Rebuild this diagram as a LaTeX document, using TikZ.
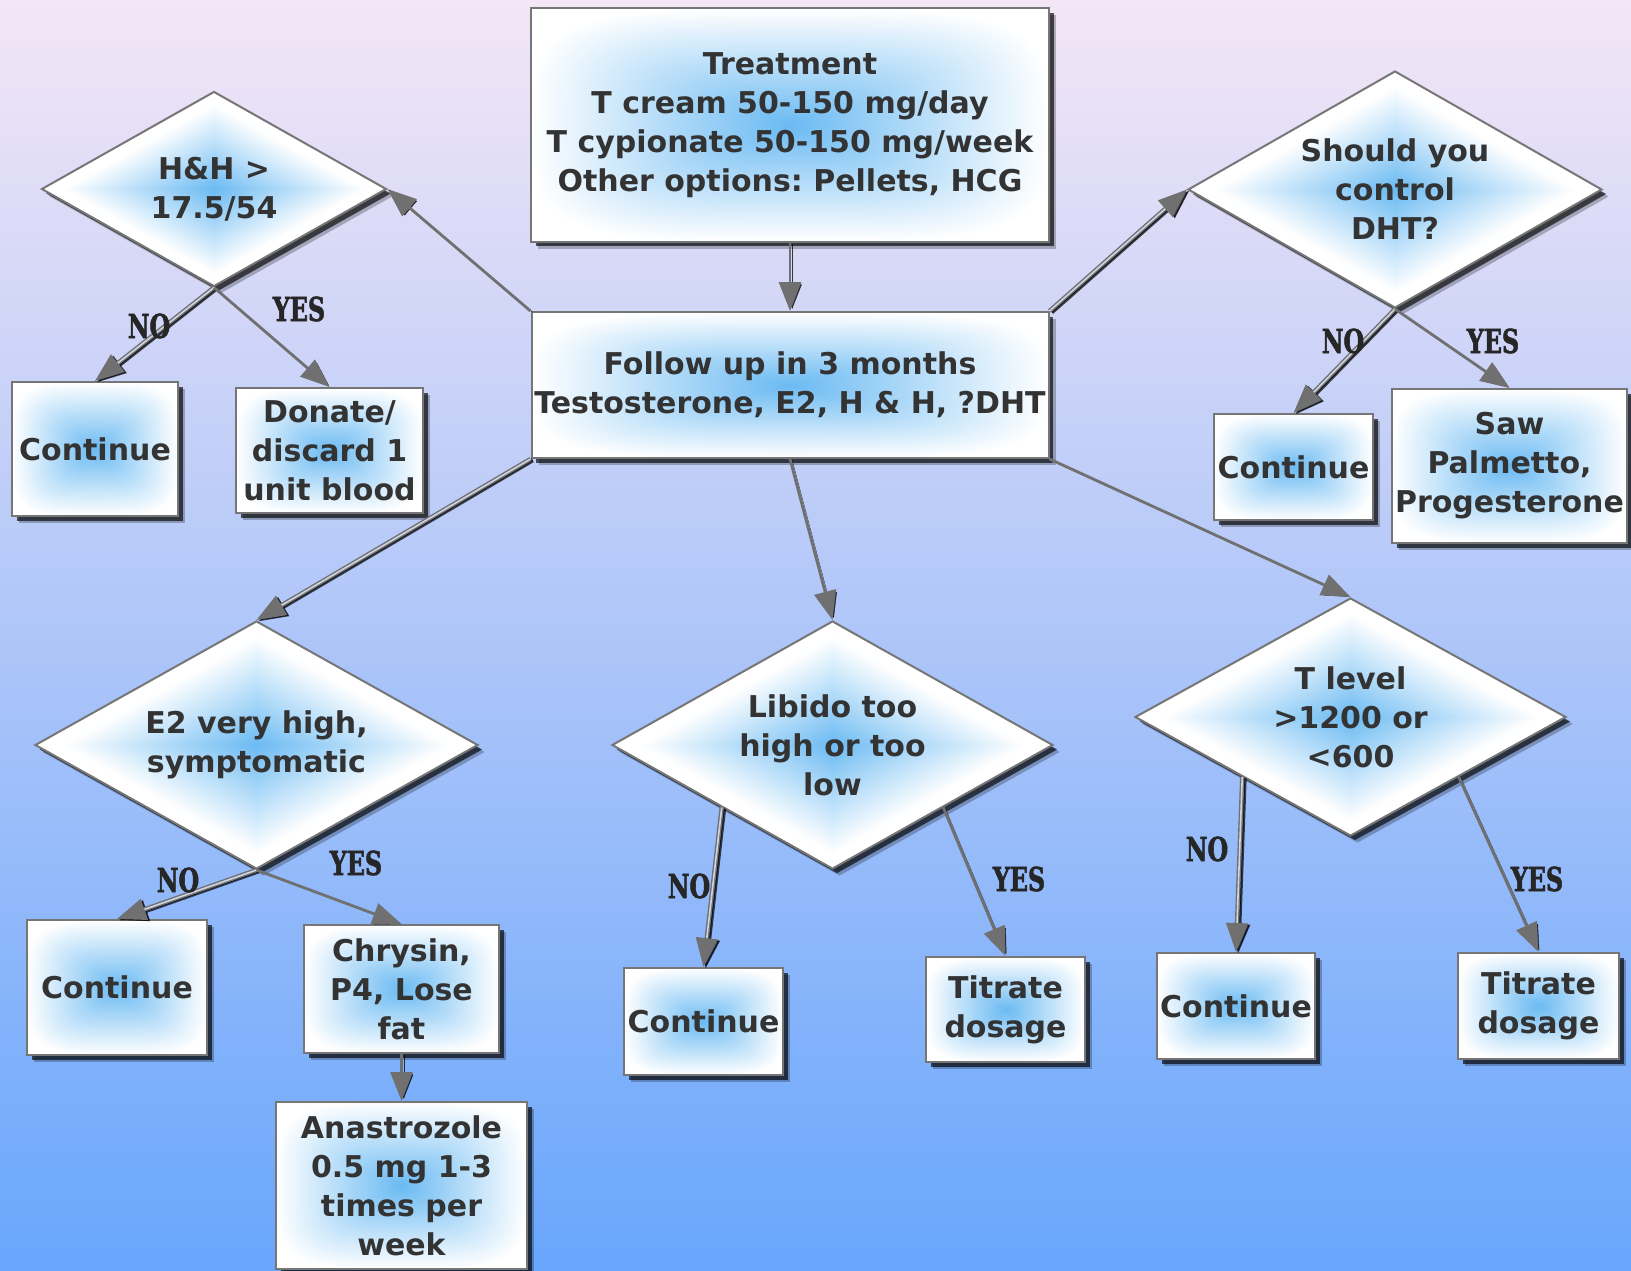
\documentclass[tikz,border=0pt]{standalone}
\usepackage{fontspec}
\setmainfont{DejaVu Sans}
\newfontfamily\lblfont[FakeStretch=0.72,FakeBold=1.6]{DejaVu Serif}
\usetikzlibrary{shapes.geometric,shadows,arrows.meta}

\definecolor{bgtop}{RGB}{244,230,246}
\definecolor{bgmid}{RGB}{152,196,247}
\definecolor{bgbot}{RGB}{104,166,252}
\definecolor{edge}{RGB}{118,118,118}
\definecolor{ink}{RGB}{51,51,51}
\definecolor{arrowgray}{RGB}{112,112,112}
\definecolor{rail}{RGB}{205,212,228}

% box glow: blue centre fading to white, rounded-rectangle contours (4-norm)
\pgfdeclarefunctionalshading{boxglow}{\pgfpointorigin}{\pgfpoint{100bp}{100bp}}{}{
  50 sub 25 div dup mul dup mul
  exch 50 sub 25 div dup mul dup mul
  add sqrt sqrt
  dup 1 gt {pop 1} if
  dup 0.58 mul 0.42 add exch dup 0.27 mul 0.73 add exch 0.05 mul 0.95 add
}
% diamond glow: same colours, contours follow the diamond
\pgfdeclarefunctionalshading{diamondglow}{\pgfpointorigin}{\pgfpoint{100bp}{100bp}}{}{
  50 sub abs exch 50 sub abs add
  22 div dup 1 gt {pop 1} if
  dup 0.58 mul 0.42 add exch dup 0.27 mul 0.73 add exch 0.05 mul 0.95 add
}

\tikzset{
  basefill/.style={draw=edge, line width=2pt, align=center, text=ink,
    font=\bfseries\fontsize{30}{39}\selectfont,
    drop shadow={shadow xshift=7pt, shadow yshift=-7pt, opacity=0.25, fill=black},
    drop shadow={shadow xshift=4.5pt, shadow yshift=-4.5pt, opacity=0.65, fill=black}},
  card/.style={basefill, shading=boxglow, inner xsep=2pt, inner ysep=4pt},
  decision/.style={basefill, shading=diamondglow, diamond, aspect=1.78, inner sep=0pt},
  tip/.style={-{Triangle[length=29pt,width=22pt]}},
  link/.style={tip, draw=arrowgray, line width=2.8pt,
    preaction={draw=black, opacity=0.75, transform canvas={shift={(2.2pt,-1.2pt)}}}},
  twin/.style={tip, draw=arrowgray, line width=1.4pt, double=rail, double distance=1.6pt,
    preaction={draw=black, double=black, opacity=0.7, transform canvas={shift={(2.2pt,-1.2pt)}}}},
  answer/.style={text=black!85, font=\lblfont\bfseries\fontsize{33}{36}\selectfont, inner sep=0pt}
}

\begin{document}
\frenchspacing
\begin{tikzpicture}[x=1pt,y=-1pt]
  \useasboundingbox (0,0) rectangle (1631,1271);
  \shade[top color=bgtop, middle color=bgmid, bottom color=bgbot] (0,0) rectangle (1631,1271);

  % main path
  \node[card, minimum width=518pt, minimum height=233pt] (treat) at (790,125)
    {Treatment\\T cream 50-150 mg/day\\T cypionate 50-150 mg/week\\Other options: Pellets, HCG};
  \node[card, minimum width=517pt, minimum height=146pt] (follow) at (790,385)
    {Follow up in 3 months\\Testosterone, E2, H \& H, ?DHT};

  % decisions
  \node[decision, minimum width=345pt, minimum height=195pt] (hh) at (214,189) {H\&H >\\17.5/54};
  \node[decision, minimum width=414pt, minimum height=237pt] (dht) at (1395,189.5) {Should you\\control\\DHT?};
  \node[decision, minimum width=443pt, minimum height=248pt] (e2) at (256.5,745) {E2 very high,\\symptomatic};
  \node[decision, minimum width=441pt, minimum height=248pt] (lib) at (832.5,745) {Libido too\\high or too\\low};
  \node[decision, minimum width=431pt, minimum height=238pt] (tl) at (1350.5,717) {T level\\>1200 or\\<600};

  % outcomes
  \node[card, minimum width=166pt, minimum height=134pt] (cont1) at (95,449) {Continue};
  \node[card, minimum width=187pt, minimum height=125pt] (donate) at (329.5,450.5) {Donate/\\discard 1\\unit blood};
  \node[card, minimum width=159pt, minimum height=106pt] (cont2) at (1293.5,467) {Continue};
  \node[card, minimum width=235pt, minimum height=154pt] (saw) at (1509.5,466) {Saw\\Palmetto,\\Progesterone};
  \node[card, minimum width=180pt, minimum height=135pt] (cont3) at (117,987.5) {Continue};
  \node[card, minimum width=195pt, minimum height=128pt] (chrys) at (401.5,989) {Chrysin,\\P4, Lose\\fat};
  \node[card, minimum width=251pt, minimum height=167pt] (anas) at (401.5,1185.5) {Anastrozole\\0.5 mg 1-3\\times per\\week};
  \node[card, minimum width=159pt, minimum height=107pt] (cont4) at (703.5,1021.5) {Continue};
  \node[card, minimum width=159pt, minimum height=105pt] (tit1) at (1005.5,1009.5) {Titrate\\dosage};
  \node[card, minimum width=158pt, minimum height=106pt] (cont5) at (1236,1006) {Continue};
  \node[card, minimum width=161pt, minimum height=106pt] (tit2) at (1538.5,1006) {Titrate\\dosage};

  % connectors
  \draw[link] (treat.south) -- (follow.north);
  \draw[link] (follow.north west) -- (hh.east);
  \draw[twin] (follow.north east) -- (dht.west);
  \draw[twin] (follow.south west) -- (e2.north);
  \draw[link] (follow.south) -- (lib.north);
  \draw[link] (follow.south east) -- (tl.north);

  \draw[twin] (hh.south) -- (cont1.north);
  \draw[link] (hh.south) -- (donate.north);
  \draw[twin] (dht.south) -- (cont2.north);
  \draw[link] (dht.south) -- (saw.north);
  \draw[twin] (e2.south) -- (cont3.north);
  \draw[link] (e2.south) -- (chrys.north);
  \draw[link] (chrys.south) -- (anas.north);
  \draw[twin] (lib.south west) -- (cont4.north);
  \draw[link] (lib.south east) -- (tit1.north);
  \draw[twin] (tl.south west) -- (cont5.north);
  \draw[link] (tl.south east) -- (tit2.north);

  % branch labels
  \node[answer] (no1) at (149,326) {NO};
  \node[answer] (yes1) at (299,309) {YES};
  \node[answer] (no2) at (1343,341) {NO};
  \node[answer] (yes2) at (1493,341) {YES};
  \node[answer] (no3) at (178,880) {NO};
  \node[answer] (yes3) at (356,863) {YES};
  \node[answer] (no4) at (689,886) {NO};
  \node[answer] (yes4) at (1019,879) {YES};
  \node[answer] (no5) at (1207,849) {NO};
  \node[answer] (yes5) at (1537,879) {YES};
\end{tikzpicture}
\end{document}
